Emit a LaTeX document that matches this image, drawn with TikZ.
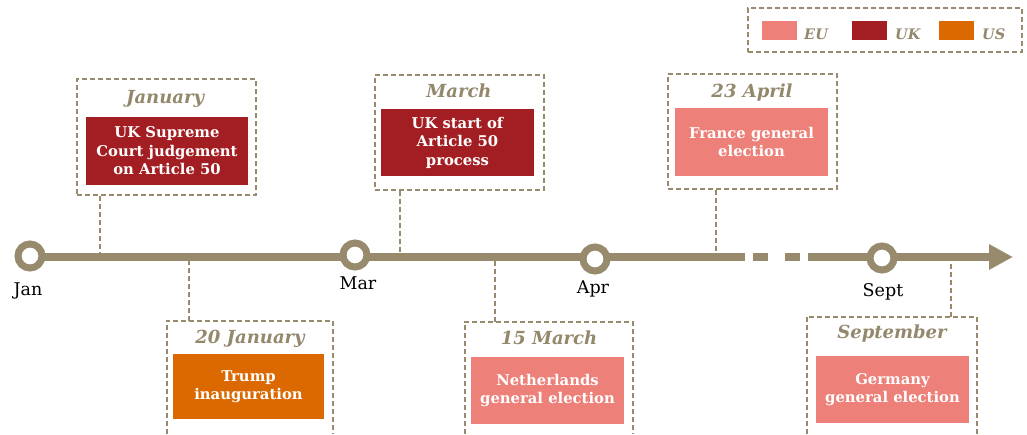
\documentclass[tikz,border=0pt]{standalone}
\usepackage{fontspec}
\setmainfont{DejaVu Serif}
\usetikzlibrary{arrows.meta, positioning}
\definecolor{taupe}{RGB}{152,138,108}
\definecolor{headtaupe}{RGB}{148,136,108}
\definecolor{eupink}{RGB}{237,128,120}
\definecolor{ukred}{RGB}{163,30,34}
\definecolor{usorange}{RGB}{220,105,0}

\begin{document}
\begin{tikzpicture}[x=1pt, y=-1pt]
	\tikzstyle{frameline} = [draw=taupe, line width=2.4pt, dash pattern=on 5pt off 3pt]
	\tikzstyle{frame} = [frameline, inner sep=0pt]
	\tikzstyle{openframe} = [draw=none, inner sep=0pt]
	\tikzstyle{link} = [draw=taupe, line width=1.8pt, dash pattern=on 5pt off 3pt]
	\tikzstyle{axis} = [draw=taupe, line width=7.5pt]
	\tikzstyle{month} = [draw=taupe, line width=7pt, circle, fill=white, minimum size=24pt, inner sep=0pt]
	\tikzstyle{mlabel} = [font=\fontsize{17.5}{19}\selectfont, anchor=base, inner sep=0pt]
	\tikzstyle{head} = [font=\fontsize{18}{20}\selectfont\bfseries\itshape, text=headtaupe, anchor=base, inner sep=0pt]
	\tikzstyle{event} = [text=white, align=center, inner sep=0pt, font=\fontsize{14.8}{18.5}\selectfont\bfseries]
	\tikzstyle{key} = [font=\fontsize{14.5}{16}\selectfont\bfseries\itshape, text=headtaupe, anchor=base west, inner sep=0pt]
	\tikzstyle{swatch} = [minimum width=35pt, minimum height=19pt, inner sep=0pt, anchor=north west]
	
	\useasboundingbox (0,0) rectangle (1027,434);
	
	% legend
	\node[frame, minimum width=274pt, minimum height=44pt]	at (885,30)		(legend)	{};
	\node[swatch, fill=eupink]		at (762,21)		(sweu)		{};
	\node[swatch, fill=ukred]		at (852,21)		(swuk)		{};
	\node[swatch, fill=usorange]	at (939,21)		(swus)		{};
	\node[key]						at (804,39)		(keu)		{EU};
	\node[key]						at (895,39)		(kuk)		{UK};
	\node[key]						at (982,39)		(kus)		{US};
	
	% frames above and below the line
	\node[frame, minimum width=179pt, minimum height=116pt]		at (166.5,137)	(f1)	{};
	\node[openframe, minimum width=166pt, minimum height=113pt]	at (250,377.5)	(f2)	{};
	\node[frame, minimum width=169pt, minimum height=115pt]		at (459.5,132.5)	(f3)	{};
	\node[openframe, minimum width=168pt, minimum height=112pt]	at (549,378)	(f4)	{};
	\node[frame, minimum width=169pt, minimum height=115pt]		at (752.5,131.5)	(f5)	{};
	\node[openframe, minimum width=170pt, minimum height=117pt]	at (892,375.5)	(f6)	{};
	\draw[frameline] (f2.south west) |- (f2.north east) -- (f2.south east);
	\draw[frameline] (f4.south west) |- (f4.north east) -- (f4.south east);
	\draw[frameline] (f6.south west) |- (f6.north east) -- (f6.south east);
	
	\node[head]		at (165,103)	(h1)	{January};
	\node[head]		at (250,343)	(h2)	{20 January};
	\node[head]		at (459,97)		(h3)	{March};
	\node[head]		at (549,344)	(h4)	{15 March};
	\node[head]		at (752,97)		(h5)	{23 April};
	\node[head]		at (892,338)	(h6)	{September};
	
	\node[event, fill=ukred, minimum width=162pt, minimum height=68pt]		at (167,151)		(b1)	{UK Supreme\\Court judgement\\on Article 50};
	\node[event, fill=usorange, minimum width=151pt, minimum height=65pt]	at (248.5,386.5)	(b2)	{Trump\\inauguration};
	\node[event, fill=ukred, minimum width=153pt, minimum height=67pt]		at (457.5,142.5)	(b3)	{UK start of\\Article 50\\process};
	\node[event, fill=eupink, minimum width=153pt, minimum height=67pt]		at (547.5,390.5)	(b4)	{Netherlands\\general election};
	\node[event, fill=eupink, minimum width=153pt, minimum height=68pt]		at (751.5,142)		(b5)	{France general\\election};
	\node[event, fill=eupink, minimum width=153pt, minimum height=67pt]		at (892.5,389.5)	(b6)	{Germany\\general election};
	
	% points on the time line
	\coordinate (l0)	at (30,257);
	\coordinate (l1)	at (745,257);
	\coordinate (g0)	at (753,257);
	\coordinate (g1)	at (800,257);
	\coordinate (l2)	at (808,257);
	\coordinate (tip)	at (1013,257);
	\coordinate (k1)	at (100,257);
	\coordinate (k2)	at (189,257);
	\coordinate (k3)	at (400,257);
	\coordinate (k4)	at (495,257);
	\coordinate (k5)	at (716,257);
	\coordinate (k6)	at (951,257);
	
	\path[link]
	(f1.south -| k1)	edge	(k1)
	(f2.north -| k2)	edge	(k2)
	(f3.south -| k3)	edge	(k3)
	(f4.north -| k4)	edge	(k4)
	(f5.south -| k5)	edge	(k5)
	(f6.north -| k6)	edge	(k6);
	
	\draw[axis] (l0) -- (l1);
	\draw[axis, dash pattern=on 15pt off 17pt] (g0) -- (g1);
	\draw[axis, -{Triangle[length=24pt, width=24pt]}] (l2) -- (tip);
	
	\node[month]	at (30,256)		(jan)	{};
	\node[month]	at (355,255)	(mar)	{};
	\node[month]	at (595,259)	(apr)	{};
	\node[month]	at (882,258)	(sept)	{};
	\node[mlabel]	at (28,295)		(tjan)	{Jan};
	\node[mlabel]	at (358,289)	(tmar)	{Mar};
	\node[mlabel]	at (593,293)	(tapr)	{Apr};
	\node[mlabel]	at (883,296)	(tsept)	{Sept};
\end{tikzpicture}
\end{document}
